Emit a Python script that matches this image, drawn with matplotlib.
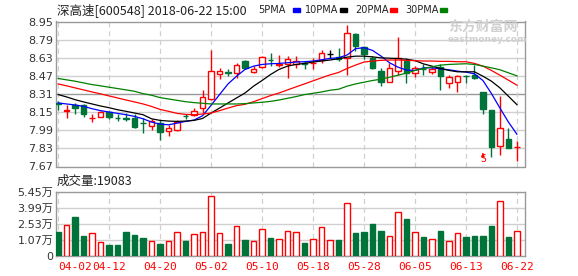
import matplotlib
matplotlib.use("Agg")
import matplotlib.pyplot as plt
import numpy as np

plt.rcParams['font.family'] = ['DejaVu Sans', 'Noto Sans CJK SC']

# daily k-line data, 2018-04-02 .. 2018-06-22
opens = [8.23, 8.16, 8.215, 8.21, 8.095, 8.105, 8.15, 8.10, 8.10, 8.10,
         8.055, 8.03, 8.053, 7.979, 7.988, 8.12, 8.127, 8.186, 8.269, 8.488,
         8.50, 8.491, 8.601, 8.503, 8.55, 8.61, 8.565, 8.571, 8.571, 8.58,
         8.583, 8.607, 8.66, 8.639, 8.63, 8.837, 8.728, 8.624, 8.512, 8.417,
         8.512, 8.60, 8.497, 8.532, 8.503, 8.55, 8.408, 8.414, 8.47, 8.482,
         8.325, 8.165, 7.852, 7.911, 7.84]
closes = [8.22, 8.17, 8.185, 8.13, 8.10, 8.15, 8.105, 8.095, 8.09, 8.02,
          8.05, 8.074, 7.973, 8.009, 8.059, 8.115, 8.157, 8.281, 8.512, 8.512,
          8.497, 8.565, 8.541, 8.527, 8.636, 8.606, 8.571, 8.615, 8.60, 8.577,
          8.586, 8.675, 8.66, 8.615, 8.852, 8.734, 8.666, 8.541, 8.414, 8.541,
          8.63, 8.491, 8.541, 8.53, 8.532, 8.467, 8.459, 8.473, 8.467, 8.447,
          8.18, 7.846, 8.009, 7.837, 7.845]
highs = [8.25, 8.21, 8.23, 8.22, 8.13, 8.16, 8.16, 8.13, 8.14, 8.13,
         8.10, 8.09, 8.08, 8.038, 8.083, 8.13, 8.19, 8.349, 8.695, 8.541,
         8.527, 8.586, 8.607, 8.556, 8.645, 8.675, 8.654, 8.645, 8.645, 8.60,
         8.63, 8.695, 8.695, 8.719, 8.92, 8.852, 8.734, 8.645, 8.541, 8.586,
         8.814, 8.63, 8.556, 8.571, 8.556, 8.571, 8.482, 8.482, 8.482, 8.565,
         8.325, 8.165, 8.296, 8.009, 7.896]
lows = [8.17, 8.10, 8.13, 8.11, 8.06, 8.105, 8.09, 8.075, 8.07, 8.01,
        7.965, 7.995, 7.905, 7.943, 7.985, 8.09, 8.12, 8.142, 8.26, 8.444,
        8.467, 8.453, 8.535, 8.497, 8.541, 8.556, 8.55, 8.453, 8.541, 8.527,
        8.527, 8.586, 8.63, 8.601, 8.476, 8.69, 8.615, 8.527, 8.379, 8.417,
        8.482, 8.408, 8.462, 8.482, 8.488, 8.349, 8.364, 8.328, 8.408, 8.438,
        8.133, 7.757, 7.772, 7.831, 7.718]

ma5 = [8.231, 8.222, 8.213, 8.201, 8.180, 8.163, 8.151, 8.139, 8.127, 8.112,
       8.091, 8.062, 8.044, 8.038, 8.053, 8.068, 8.080, 8.118, 8.210, 8.305,
       8.399, 8.467, 8.527, 8.556, 8.571, 8.577, 8.580, 8.586, 8.592, 8.595,
       8.601, 8.612, 8.624, 8.630, 8.654, 8.710, 8.719, 8.695, 8.645, 8.586,
       8.547, 8.521, 8.518, 8.541, 8.541, 8.532, 8.524, 8.512, 8.503, 8.488,
       8.429, 8.314, 8.186, 8.062, 7.955]
ma10 = [8.305, 8.284, 8.260, 8.240, 8.222, 8.204, 8.189, 8.171, 8.157, 8.142,
        8.127, 8.091, 8.077, 8.071, 8.068, 8.071, 8.077, 8.094, 8.142, 8.186,
        8.231, 8.275, 8.319, 8.379, 8.429, 8.482, 8.527, 8.556, 8.571, 8.580,
        8.592, 8.601, 8.610, 8.621, 8.635, 8.644, 8.644, 8.638, 8.629, 8.626,
        8.623, 8.617, 8.605, 8.576, 8.556, 8.535, 8.518, 8.506, 8.506, 8.506,
        8.467, 8.423, 8.364, 8.290, 8.216]
ma20 = [8.399, 8.382, 8.364, 8.346, 8.328, 8.311, 8.293, 8.275, 8.257, 8.240,
        8.222, 8.200, 8.174, 8.157, 8.139, 8.130, 8.127, 8.133, 8.142, 8.163,
        8.186, 8.207, 8.219, 8.242, 8.269, 8.296, 8.319, 8.346, 8.373, 8.399,
        8.426, 8.453, 8.479, 8.500, 8.535, 8.565, 8.592, 8.601, 8.607, 8.610,
        8.610, 8.607, 8.604, 8.601, 8.601, 8.598, 8.598, 8.595, 8.595, 8.580,
        8.556, 8.518, 8.476, 8.432, 8.388]
ma30 = [8.447, 8.435, 8.423, 8.408, 8.393, 8.382, 8.370, 8.358, 8.346, 8.334,
        8.313, 8.299, 8.278, 8.266, 8.254, 8.242, 8.234, 8.228, 8.222, 8.222,
        8.222, 8.222, 8.225, 8.231, 8.237, 8.245, 8.257, 8.272, 8.287, 8.305,
        8.316, 8.328, 8.343, 8.352, 8.379, 8.399, 8.414, 8.429, 8.441, 8.458,
        8.476, 8.494, 8.518, 8.535, 8.550, 8.565, 8.571, 8.574, 8.577, 8.571,
        8.556, 8.541, 8.524, 8.497, 8.470]

# volume in 万
volumes = [1.83, 2.44, 3.20, 1.44, 1.68, 0.92, 0.61, 0.61, 1.83, 1.55,
           1.28, 0.98, 0.71, 0.98, 1.77, 0.98, 1.62, 1.77, 5.08, 1.68,
           0.71, 2.35, 1.07, 0.98, 2.04, 1.22, 1.13, 1.89, 1.77, 0.82,
           1.13, 2.23, 1.07, 1.07, 4.42, 1.74, 1.83, 2.53, 1.89, 1.44,
           3.60, 2.99, 1.80, 1.34, 1.13, 1.89, 0.98, 1.68, 1.34, 1.44,
           1.44, 2.35, 4.63, 1.34, 1.908]

date_labels = ['04-02', '04-12', '04-20', '05-02', '05-10', '05-18',
               '05-28', '06-05', '06-13', '06-22']
price_ticks = [7.67, 7.83, 7.99, 8.15, 8.31, 8.47, 8.63, 8.79, 8.95]
vol_ticks = [1.07, 2.53, 3.99, 5.45]
vol_bottom = -0.39

RED = '#ff0000'
GREEN = '#00733a'
GRID = '#d0d0d0'
FRAME = '#999999'

n = len(closes)
x = np.arange(n)
label_pos = np.arange(0, n, 6)

fig = plt.figure(figsize=(5.78, 2.76), dpi=100)
ax = fig.add_axes([56 / 578, 1 - 166.5 / 276, 469 / 578, 145 / 276])
axv = fig.add_axes([56 / 578, 1 - 256 / 276, 469 / 578, 64 / 276])

colors = []
for o, c in zip(opens, closes):
    if c > o:
        colors.append(RED)
    elif c < o:
        colors.append(GREEN)
    else:
        colors.append('black')

# candles
ax.vlines(x, lows, highs, colors=colors, lw=1, zorder=3)
body_lo = np.minimum(opens, closes)
body_h = np.maximum(np.abs(np.array(closes) - np.array(opens)), 0.002)
face = ['white' if c == RED else c for c in colors]
ax.bar(x, body_h, bottom=body_lo, width=0.62, color=face, edgecolor=colors,
       lw=1, zorder=4)

ax.plot(x, ma5, color='#0000ff', lw=0.9, zorder=5)
ax.plot(x, ma10, color='black', lw=0.9, zorder=5)
ax.plot(x, ma20, color=RED, lw=0.9, zorder=5)
ax.plot(x, ma30, color='#008000', lw=0.9, zorder=5)

# sell mark
ax.annotate('', xy=(50, 7.79), xytext=(50, 7.755),
            arrowprops=dict(arrowstyle='-|>', color=RED, lw=0.8,
                            mutation_scale=5), zorder=6)
ax.text(50, 7.735, 'S', color=RED, fontsize=7, ha='center', va='center',
        family='DejaVu Sans Mono')

ax.set_xlim(-0.25, n - 0.05)
ax.set_ylim(7.67, 8.95)
ax.set_yticks(price_ticks)
ax.set_yticklabels(['%.2f' % t for t in price_ticks])
ax.set_xticks(label_pos)
ax.set_xticklabels([])
for t in price_ticks[1:-1]:
    ax.axhline(t, color='#999999' if t == 8.31 else GRID, lw=1, zorder=1)
for p in label_pos:
    ax.axvline(p, color=GRID, lw=0.9, ls=(0, (4, 3)), zorder=1)

# volume
vol_colors = [GREEN if c == GREEN else RED for c in colors]
vol_face = [GREEN if c == GREEN else 'white' for c in colors]
axv.bar(x, np.array(volumes) - vol_bottom, bottom=vol_bottom, width=0.62,
        color=vol_face, edgecolor=vol_colors, lw=1, zorder=3)
axv.set_xlim(-0.25, n - 0.05)
axv.set_ylim(vol_bottom, 5.45)
axv.set_yticks([vol_bottom] + vol_ticks)
axv.set_yticklabels(['0'] + ['%.2f万' % t for t in vol_ticks])
for t in vol_ticks[:-1]:
    axv.axhline(t, color=GRID, lw=1, zorder=1)
for p in label_pos:
    axv.axvline(p, color=GRID, lw=0.9, ls=(0, (4, 3)), zorder=1)
axv.set_xticks(label_pos)
axv.set_xticklabels(date_labels, color=RED, family='DejaVu Sans Mono',
                    fontsize=7.5)
labs = axv.get_xticklabels()
labs[0].set_horizontalalignment('left')

for a in (ax, axv):
    for s in a.spines.values():
        s.set_color(FRAME)
        s.set_linewidth(1)
    a.tick_params(length=0, labelsize=8, colors='#333333', pad=2)
axv.tick_params(axis='x', colors=RED, pad=4)

# header texts
fig.text(57 / 578, 1 - 10 / 276, '深高速[600548] 2018-06-22 15:00',
         fontsize=9, va='center', color='#222222',
         family=['Noto Sans CJK SC', 'DejaVu Sans'])
legend = [('5PMA', '#0000ff', 258), ('10PMA', 'black', 305),
          ('20PMA', RED, 355), ('30PMA', '#008000', 405)]
for name, col, px in legend:
    t = fig.text(px / 578, 1 - 10 / 276, name, fontsize=7, va='center',
                 color='#222222')
    fig.patches.append(plt.Rectangle(((px + 35) / 578, 1 - 11.5 / 276),
                                     7 / 578, 3 / 276, color=col,
                                     transform=fig.transFigure, figure=fig))
fig.text(57 / 578, 1 - 181 / 276, '成交量:19083', fontsize=9, va='center',
         color='#222222', family=['Noto Sans CJK SC', 'DejaVu Sans'])

# watermark
fig.text(448 / 578, 1 - 27 / 276, '东方财富网', fontsize=10, color='#d0d0d0',
         va='center', weight='bold', family=['Noto Sans CJK SC'])
fig.text(448 / 578, 1 - 40 / 276, 'eastmoney.com', fontsize=6.5,
         color='#d0d0d0', va='center', weight='bold')

fig.savefig('out.png', dpi=100)
